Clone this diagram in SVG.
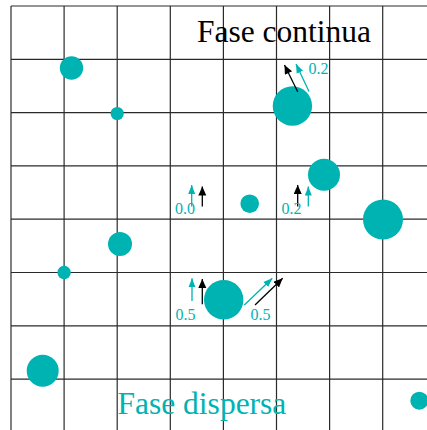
<svg xmlns="http://www.w3.org/2000/svg" width="427" height="430" viewBox="0 0 427 430">
<style>
.grid line{stroke:#2a2a2a;stroke-width:1.2}
.p{fill:#00B3B3}
.ak{stroke:#000;stroke-width:1.3;fill:none}
.at{stroke:#00B3B3;stroke-width:1.3;fill:none}
.lbl{font-family:"Liberation Serif","Times New Roman",serif;font-size:16px;fill:#00B3B3}
.big{font-family:"Liberation Serif","Times New Roman",serif;font-size:31.5px}
</style>
<defs>
<marker id="hk" markerUnits="userSpaceOnUse" markerWidth="12" markerHeight="10" refX="9" refY="4" orient="auto"><path d="M0,0 L9,4 L0,8 Z" fill="#000"/></marker>
<marker id="ht" markerUnits="userSpaceOnUse" markerWidth="12" markerHeight="10" refX="9" refY="4" orient="auto"><path d="M0,0.5 L9,4 L0,7.5 Z" fill="#00B3B3"/></marker>
</defs>
<rect width="427" height="430" fill="#fff"/>
<g class="grid" id="grid">
<line x1="11" y1="6" x2="427" y2="6"/>
<line x1="11" y1="59.3" x2="427" y2="59.3"/>
<line x1="11" y1="112.6" x2="427" y2="112.6"/>
<line x1="11" y1="165.9" x2="427" y2="165.9"/>
<line x1="11" y1="219.2" x2="427" y2="219.2"/>
<line x1="11" y1="272.5" x2="427" y2="272.5"/>
<line x1="11" y1="325.8" x2="427" y2="325.8"/>
<line x1="11" y1="379.1" x2="427" y2="379.1"/>
<line x1="11" y1="6" x2="11" y2="430"/>
<line x1="64.1" y1="6" x2="64.1" y2="430"/>
<line x1="117.2" y1="6" x2="117.2" y2="430"/>
<line x1="170.3" y1="6" x2="170.3" y2="430"/>
<line x1="223.4" y1="6" x2="223.4" y2="430"/>
<line x1="276.5" y1="6" x2="276.5" y2="430"/>
<line x1="329.6" y1="6" x2="329.6" y2="430"/>
<line x1="382.7" y1="6" x2="382.7" y2="430"/>
</g>
<g id="particles">
<circle id="p1" class="p" cx="71.5" cy="68" r="11.7"/>
<circle id="p2" class="p" cx="117.2" cy="113.5" r="6.6"/>
<circle id="p3" class="p" cx="292.4" cy="106" r="19.7"/>
<circle id="p4" class="p" cx="324" cy="174.7" r="16"/>
<circle id="p5" class="p" cx="249.7" cy="203.7" r="9.3"/>
<circle id="p6" class="p" cx="383" cy="219.5" r="20"/>
<circle id="p7" class="p" cx="120" cy="244" r="12"/>
<circle id="p8" class="p" cx="64.1" cy="272.5" r="6.7"/>
<circle id="p9" class="p" cx="223.7" cy="299.7" r="19.7"/>
<circle id="p10" class="p" cx="42.7" cy="370.7" r="16"/>
<circle id="p11" class="p" cx="419.3" cy="400.7" r="9"/>
</g>
<g id="connectors">
<line class="ak" x1="297.7" y1="91.7" x2="284.5" y2="65" marker-end="url(#hk)"/>
<line class="at" x1="309" y1="91.5" x2="296" y2="64" marker-end="url(#ht)"/>
<line class="at" x1="191.7" y1="206.5" x2="191.7" y2="185" marker-end="url(#ht)"/>
<line class="ak" x1="202.3" y1="206.5" x2="202.3" y2="186.5" marker-end="url(#hk)"/>
<line class="ak" x1="297.7" y1="206.5" x2="297.7" y2="185" marker-end="url(#hk)"/>
<line class="at" x1="308.3" y1="206.5" x2="308.3" y2="186.5" marker-end="url(#ht)"/>
<line class="at" x1="192" y1="301" x2="192" y2="278.3" marker-end="url(#ht)"/>
<line class="ak" x1="202.3" y1="304.3" x2="202.3" y2="279" marker-end="url(#hk)"/>
<line class="at" x1="244.3" y1="305" x2="272.3" y2="278.3" marker-end="url(#ht)"/>
<line class="ak" x1="255" y1="305" x2="282.7" y2="278.3" marker-end="url(#hk)"/>
</g>
<g id="labels">
<text class="lbl" x="308.5" y="74">0.2</text>
<text class="lbl" x="175" y="214">0.0</text>
<text class="lbl" x="281.5" y="214">0.2</text>
<text class="lbl" x="175.5" y="319.5">0.5</text>
<text class="lbl" x="250.5" y="319.5">0.5</text>
<text class="big" x="197" y="42" fill="#000">Fase continua</text>
<text class="big" x="117.5" y="413.5" fill="#00B3B3">Fase dispersa</text>
</g>
</svg>
